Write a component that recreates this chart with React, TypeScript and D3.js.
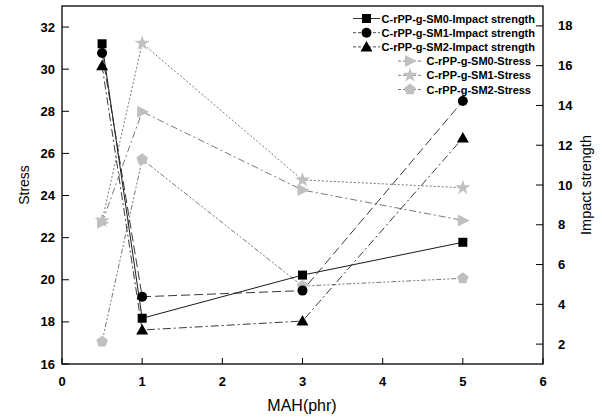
import React from "react";
import * as d3 from "d3";

const xValues = [0.5, 1, 3, 5];
const impactSM0 = [17.1, 3.3, 5.47, 7.12];
const impactSM1 = [16.64, 4.38, 4.69, 14.22];
const impactSM2 = [16.0, 2.71, 3.16, 12.36];
const stressSM0 = [22.71, 27.98, 24.26, 22.82];
const stressSM1 = [22.8, 31.23, 24.74, 24.37];
const stressSM2 = [17.06, 25.72, 19.7, 20.07];
const xTicks = [0, 1, 2, 3, 4, 5, 6];
const leftTicks = [16, 18, 20, 22, 24, 26, 28, 30, 32];
const rightTicks = [2, 4, 6, 8, 10, 12, 14, 16, 18];
const seriesNames = [
  "C-rPP-g-SM0-Impact strength",
  "C-rPP-g-SM1-Impact strength",
  "C-rPP-g-SM2-Impact strength",
  "C-rPP-g-SM0-Stress",
  "C-rPP-g-SM1-Stress",
  "C-rPP-g-SM2-Stress",
];

const W = 602, H = 419;
const L = 62, R = 543, T = 6, B = 364;
const FONT = "'Liberation Sans', Arial, sans-serif";

function Marker({ type, x, y, fill }: { type: string; x: number; y: number; fill: string }) {
  if (type === "square") return <rect x={x - 4.5} y={y - 4.5} width={9} height={9} fill={fill} />;
  if (type === "circle") return <circle cx={x} cy={y} r={5} fill={fill} />;
  if (type === "triangle") return <path d={`M${x},${y - 6} L${x + 6},${y + 4.5} L${x - 6},${y + 4.5}Z`} fill={fill} />;
  if (type === "right") return <path d={`M${x - 5},${y - 6} L${x + 7},${y} L${x - 5},${y + 6}Z`} fill={fill} />;
  if (type === "pentagon") {
    const pts = d3.range(5).map((i) => {
      const a = -Math.PI / 2 + (i * 2 * Math.PI) / 5;
      return `${x + 6 * Math.cos(a)},${y + 6 * Math.sin(a)}`;
    });
    return <polygon points={pts.join(" ")} fill={fill} />;
  }
  const p = d3.symbol().type(d3.symbolStar).size(70)();
  return <path d={p || ""} transform={`translate(${x},${y})`} fill={fill} />;
}

export default function App() {
  const x = d3.scaleLinear().domain([0, 6]).range([L, R]);
  const yL = d3.scaleLinear().domain([16, 33]).range([B, T]);
  const yR = d3.scaleLinear().domain([1, 19]).range([B, T]);

  const series = [
    { data: impactSM0, scale: yR, marker: "square", fill: "#000", stroke: "#000", dash: "" },
    { data: impactSM1, scale: yR, marker: "circle", fill: "#000", stroke: "#222", dash: "9,4" },
    { data: impactSM2, scale: yR, marker: "triangle", fill: "#000", stroke: "#222", dash: "8,3,2,3" },
    { data: stressSM0, scale: yL, marker: "right", fill: "#c0c0c0", stroke: "#555", dash: "7,3,2,3" },
    { data: stressSM1, scale: yL, marker: "star", fill: "#c0c0c0", stroke: "#555", dash: "2,2" },
    { data: stressSM2, scale: yL, marker: "pentagon", fill: "#c0c0c0", stroke: "#555", dash: "5,2,2,2,2,2" },
  ];

  const line = (s: typeof series[0]) =>
    d3.line<number>().x((_, i) => x(xValues[i])).y((d) => s.scale(d))(s.data) || "";

  return (
    <svg width={W} height={H} style={{ display: "block", position: "absolute", left: 0, top: 0, background: "#fff" }} fontFamily={FONT}>
      <rect x={0} y={0} width={W} height={H} fill="#fff" />
      {series.slice(3).map((s, k) => (
        <path key={"ls" + k} d={line(s)} fill="none" stroke={s.stroke} strokeWidth={0.8} strokeDasharray={s.dash} />
      ))}
      {series.slice(0, 3).map((s, k) => (
        <path key={"li" + k} d={line(s)} fill="none" stroke={s.stroke} strokeWidth={0.9} strokeDasharray={s.dash} />
      ))}
      {series.slice(3).map((s, k) =>
        s.data.map((v, i) => <Marker key={`ms${k}-${i}`} type={s.marker} x={x(xValues[i])} y={s.scale(v)} fill={s.fill} />)
      )}
      {series.slice(0, 3).map((s, k) =>
        s.data.map((v, i) => <Marker key={`mi${k}-${i}`} type={s.marker} x={x(xValues[i])} y={s.scale(v)} fill={s.fill} />)
      )}

      <rect x={L} y={T} width={R - L} height={B - T} fill="none" stroke="#000" strokeWidth={1.3} />

      {xTicks.map((t) => (
        <g key={"x" + t}>
          <line x1={x(t)} x2={x(t)} y1={B} y2={B - 6} stroke="#000" strokeWidth={1} />
          <text x={x(t)} y={B + 22} textAnchor="middle" fontSize={13} fontWeight="bold">{t}</text>
        </g>
      ))}
      {leftTicks.map((t) => (
        <g key={"l" + t}>
          <line x1={L} x2={L + 7} y1={yL(t)} y2={yL(t)} stroke="#000" strokeWidth={1} />
          <text x={L - 7} y={yL(t) + 4.5} textAnchor="end" fontSize={13} fontWeight="bold">{t}</text>
        </g>
      ))}
      {rightTicks.map((t) => (
        <g key={"r" + t}>
          <line x1={R} x2={R - 7} y1={yR(t)} y2={yR(t)} stroke="#000" strokeWidth={1} />
          <text x={R + 15} y={yR(t) + 4.5} textAnchor="start" fontSize={13} fontWeight="bold">{t}</text>
        </g>
      ))}

      <text x={302} y={411} textAnchor="middle" fontSize={16}>MAH(phr)</text>
      <text transform={`translate(29,${(T + B) / 2}) rotate(-90)`} textAnchor="middle" fontSize={14}>Stress</text>
      <text transform={`translate(591,${(T + B) / 2}) rotate(-90)`} textAnchor="middle" fontSize={14.5}>Impact strength</text>

      {series.map((s, i) => {
        const yy = 18.5 + i * 14.2;
        const impact = i < 3;
        const tx = impact ? 535 : 531;
        const lx1 = impact ? 353 : 398;
        const lx2 = impact ? 380 : 422;
        const mx = (lx1 + lx2) / 2;
        return (
          <g key={"lg" + i}>
            <line x1={lx1} x2={lx2} y1={yy} y2={yy} stroke={s.stroke} strokeWidth={0.8} strokeDasharray={s.dash ? "3,2" : ""} />
            <Marker type={s.marker} x={mx} y={yy} fill={s.fill} />
            <text x={tx} y={yy + 4} textAnchor="end" fontSize={11} fontWeight="bold">{seriesNames[i]}</text>
          </g>
        );
      })}
    </svg>
  );
}
